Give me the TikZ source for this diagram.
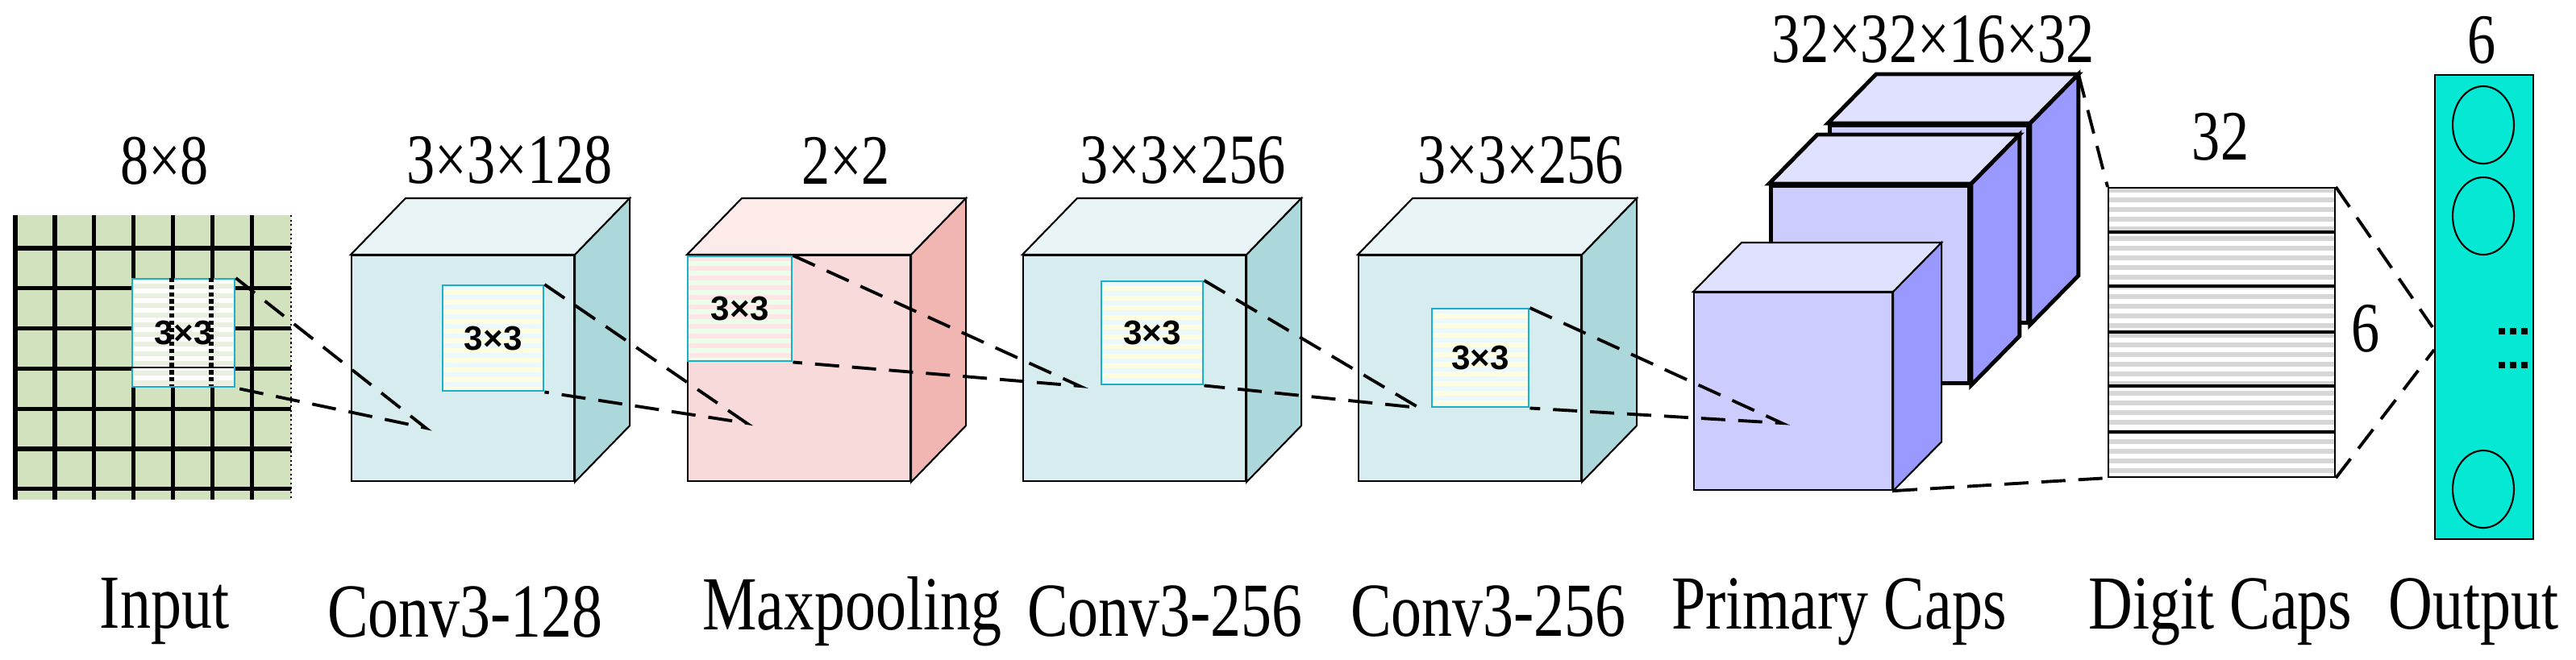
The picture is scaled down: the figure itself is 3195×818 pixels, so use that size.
\documentclass[tikz,border=0pt]{standalone}
\usepackage{fontspec}
\setmainfont{Liberation Serif}
\newfontfamily\kernfont{Liberation Sans}
\usetikzlibrary{positioning,shapes.geometric}
\definecolor{gridF}{HTML}{D3E2BE}
\definecolor{convF}{HTML}{D7ECEE}\definecolor{convT}{HTML}{E8F4F5}\definecolor{convS}{HTML}{ADD8DB}
\definecolor{poolF}{HTML}{F9DADA}\definecolor{poolT}{HTML}{FDEBEA}\definecolor{poolS}{HTML}{F1B5B2}
\definecolor{capsF}{HTML}{CCCCFF}\definecolor{capsT}{HTML}{E0E0FF}\definecolor{capsS}{HTML}{9999FF}
\definecolor{outF}{HTML}{05E8D4}
\definecolor{kernB}{HTML}{1AAFCF}
\newcommand\narrow[1]{\scalebox{0.8}[1]{#1}}
\tikzset{
	face/.style={draw,rectangle,inner sep=0pt,minimum width=27.6mm,minimum height=28mm},
	capface/.style={draw,rectangle,inner sep=0pt,minimum width=24.6mm,minimum height=24.5mm},
	stripes/.style={path picture={\foreach \i in {0,...,60}{\fill[#1] ([yshift=-\i*1.2mm]path picture bounding box.north west) rectangle ([yshift=-\i*1.2mm-0.6mm]path picture bounding box.north east);}}},
	kernel/.style={draw=kernB,line width=0.7pt,rectangle,inner sep=0pt,anchor=north west,font=\kernfont\bfseries\fontsize{12}{14}\selectfont},
	link/.style={line width=1.1pt,dash pattern=on 3mm off 1.6mm},
	sizelabel/.style={font=\rmfamily\fontsize{25}{29}\selectfont},
	layerlabel/.style={font=\rmfamily\fontsize{27}{31}\selectfont}
}
% cube: options, name, corner, colour prefix, depth
\newcommand\layer[5][]{%
	\node[face,anchor=north west,fill=#4F,#1] (#2) at #3 {};
	\filldraw[fill=#4T,#1] (#2.north west) -- ++(#5) -- ([shift={(#5)}]#2.north east) -- (#2.north east) -- cycle;
	\filldraw[fill=#4S,#1] (#2.north east) -- ++(#5) -- ([shift={(#5)}]#2.south east) -- (#2.south east) -- cycle;
}
\begin{document}
\begin{tikzpicture}[x=0.1mm,y=-0.1mm,line width=0.6pt]
	\useasboundingbox (0,0) rectangle (3195,818);
	% input grid
	\fill[gridF] (19,267) rectangle (361,620);
	\foreach \i in {0,...,6}
		\draw[line width=1.5pt] (19,{308+49.8*\i}) -- (361,{308+49.8*\i});
	\foreach \i in {0,...,6}
		\draw[line width=1.5pt] ({19+48.9*\i},267) -- ({19+48.9*\i},620);
	\draw[densely dotted] (361,267) -- (361,620);
	\node[kernel,fill=gridF!50!white,stripes=white,minimum width=12.7mm,minimum height=13.4mm] (kin) at (163,345) {};
	\draw[line width=1.5pt,densely dotted] (213,345) -- (213,479) (262,345) -- (262,479);
	\draw (163,456) -- (290,456);
	\node[font=\kernfont\bfseries\fontsize{12}{14}\selectfont] at (kin.center) {3×3};
	% conv and pooling layers
	\layer{c1}{(435,316)}{conv}{68,-70}
	\layer{mp}{(852,316)}{pool}{68,-70}
	\layer{c2}{(1268,316)}{conv}{68,-70}
	\layer{c3}{(1684,316)}{conv}{68,-70}
	\node[kernel,fill=yellow!12,stripes=cyan!8,minimum width=12.5mm,minimum height=13.1mm] (k1) at (548,353) {3×3};
	\node[kernel,fill=green!8,stripes=red!10,minimum width=12.9mm,minimum height=13mm] (kmp) at (852,317) {3×3};
	\node[kernel,fill=yellow!12,stripes=cyan!8,minimum width=12.6mm,minimum height=12.8mm] (k2) at (1365,348) {3×3};
	\node[kernel,fill=yellow!12,stripes=cyan!8,minimum width=12mm,minimum height=12.2mm] (k3) at (1775,382) {3×3};
	% primary caps
	\layer[capface,line width=1.4pt]{pc3}{(2267,153)}{caps}{60,-61}
	\layer[capface,line width=1.4pt]{pc2}{(2194,228)}{caps}{60,-61}
	\layer[capface]{pc1}{(2100,362)}{caps}{60,-61}
	\coordinate (pcb) at ([shift={(60,-61)}]pc3.north east);
	% digit caps
	\node[draw,rectangle,inner sep=0pt,anchor=north west,fill=white,stripes={black!16},minimum width=28.1mm,minimum height=35.9mm] (dc) at (2614,232) {};
	\foreach \y in {288,355,412,479,536}
		\draw[line width=1.2pt] (2614,\y) -- (2895,\y);
	% output
	\node[draw,rectangle,inner sep=0pt,anchor=north west,fill=outF,minimum width=12.2mm,minimum height=57.6mm] (out) at (3019,92) {};
	\foreach \y [count=\j] in {155,268,607}
		\node[draw,ellipse,inner sep=0pt,minimum width=7.6mm,minimum height=9.6mm] (o\j) at (3080,\y) {};
	\foreach \y in {411,453}
		\foreach \x in {3099,3113,3127}
			\fill (\x,\y-4) rectangle (\x+8,\y+4);
	% connections
	\coordinate (p1) at (528,531);
	\coordinate (p2) at (926,525);
	\coordinate (p3) at (1339,479);
	\coordinate (p4) at (1760,506);
	\coordinate (p5) at (2210,525);
	\draw[link] (kin.north east) -- (p1) -- (kin.south east);
	\draw[link] (k1.north east) -- (p2) -- (k1.south east);
	\draw[link] (kmp.north east) -- (p3) -- (kmp.south east);
	\draw[link] (k2.north east) -- (p4) -- (k2.south east);
	\draw[link] (k3.north east) -- (p5) -- (k3.south east);
	\draw[link] (pcb) -- (dc.north west);
	\draw[link] (pc1.south east) -- (dc.south west);
	\draw[link] (dc.north east) -- (3017,406);
	\draw[link] (dc.south east) -- (3019,434);
	% labels
	\node[sizelabel] at (204,200) {\narrow{8×8}};
	\node[sizelabel] at (632,199) {\narrow{3×3×128}};
	\node[sizelabel] at (1049,199) {\narrow{2×2}};
	\node[sizelabel] at (1467,199) {\narrow{3×3×256}};
	\node[sizelabel] at (1886,199) {\narrow{3×3×256}};
	\node[sizelabel] at (2398,49) {\narrow{32×32×16×32}};
	\node[sizelabel] at (2754,170) {\narrow{32}};
	\node[sizelabel] at (2934,408) {\narrow{6}};
	\node[sizelabel] at (3078,50) {\narrow{6}};
	\foreach \x/\t in {204/Input,577/Conv3-128,1057/Maxpooling,1445/Conv3-256,1846/Conv3-256,2281/Primary Caps,2754/Digit Caps,3068/Output}
		\node[layerlabel] at (\x,759) {\narrow{\t}};
\end{tikzpicture}
\end{document}
